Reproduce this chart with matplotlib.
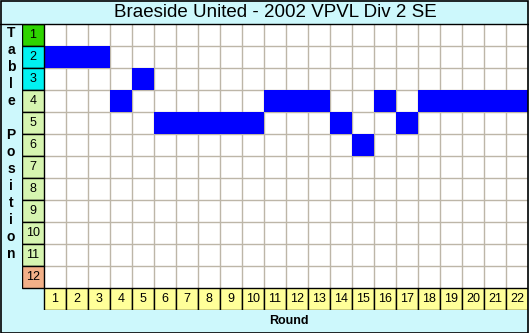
import matplotlib
matplotlib.use("Agg")
import matplotlib.pyplot as plt
from matplotlib.patches import Rectangle
from matplotlib.lines import Line2D

plt.rcParams['font.family'] = ['Liberation Sans', 'DejaVu Sans']

title = "Braeside United - 2002 VPVL Div 2 SE"
rounds = list(range(1, 23))
positions = [2, 2, 2, 4, 3, 5, 5, 5, 5, 5, 4, 4, 4, 5, 6, 4, 5, 4, 4, 4, 4, 4]
table_positions = list(range(1, 13))
position_colors = ['#2ED400', '#00F2F2', '#00F2F2'] + ['#D6F5B0'] * 8 + ['#F2B088']
round_color = '#FFFF99'
bar_color = '#0000FF'
bg = '#CDF8FC'

W, H = 529, 333
fig = plt.figure(figsize=(W / 100, H / 100), dpi=100, facecolor=bg)

# axes: columns -0.5..22.5 (label column + 22 rounds), rows 0.5..13.5 (12 positions + round row)
left, right, top, bottom = 22, 528, 24, 310
ax = fig.add_axes([left / W, 1 - bottom / H, (right - left) / W, (bottom - top) / H])
ax.set_xlim(-0.5, 22.5)
ax.set_ylim(13.5, 0.5)
ax.axis('off')

# white grid area
ax.add_patch(Rectangle((0.5, 0.5), 22, 12, facecolor='white', edgecolor='none', zorder=0))
# grid lines
ax.vlines([r + 0.5 for r in rounds[:-1]], 0.5, 12.5, color='#BDB6A8', lw=1, zorder=1)
ax.hlines([p + 0.5 for p in table_positions[:-1]], 0.5, 22.5, color='#BDB6A8', lw=1, zorder=1)

# position bars
ax.bar(rounds, [1] * len(rounds), bottom=[p - 0.5 for p in positions], width=1,
       color=bar_color, edgecolor='none', zorder=2)

# position label column
ax.bar([0] * 12, [1] * 12, bottom=[p - 0.5 for p in table_positions], width=1,
       color=position_colors, edgecolor='black', lw=1, zorder=3)
for p in table_positions:
    ax.text(0, p, str(p), ha='center', va='center', fontsize=9, zorder=4)

# round label row
ax.bar(rounds, [1] * 22, bottom=12.5, width=1, color=round_color, edgecolor='black', lw=1, zorder=3)
for r in rounds:
    ax.text(r, 13, str(r), ha='center', va='center', fontsize=9, zorder=4)

# title band
fig.text(275 / W, 1 - 12.5 / H, title, ha='center', va='center', fontsize=13.5)
fig.add_artist(Line2D([0, 1], [1 - 24 / H, 1 - 24 / H], transform=fig.transFigure, color='black', lw=1))

# y label stacked letters
ylabel = "Table Position"
y0 = 33
for i, ch in enumerate(ylabel):
    if ch != ' ':
        fig.text(11 / W, 1 - (y0 + 17 * i) / H, ch, ha='center', va='center',
                 fontsize=10, fontweight='bold')

fig.text(289 / W, 1 - 321 / H, "Round", ha='center', va='center', fontsize=9, fontweight='bold')

# outer border
fig.add_artist(Rectangle((0.5 / W, 0.5 / H), (W - 1.5) / W, (H - 1.5) / H, transform=fig.transFigure,
                         fill=False, edgecolor='black', lw=1.2))

fig.savefig("out.png", dpi=100, facecolor=bg)
